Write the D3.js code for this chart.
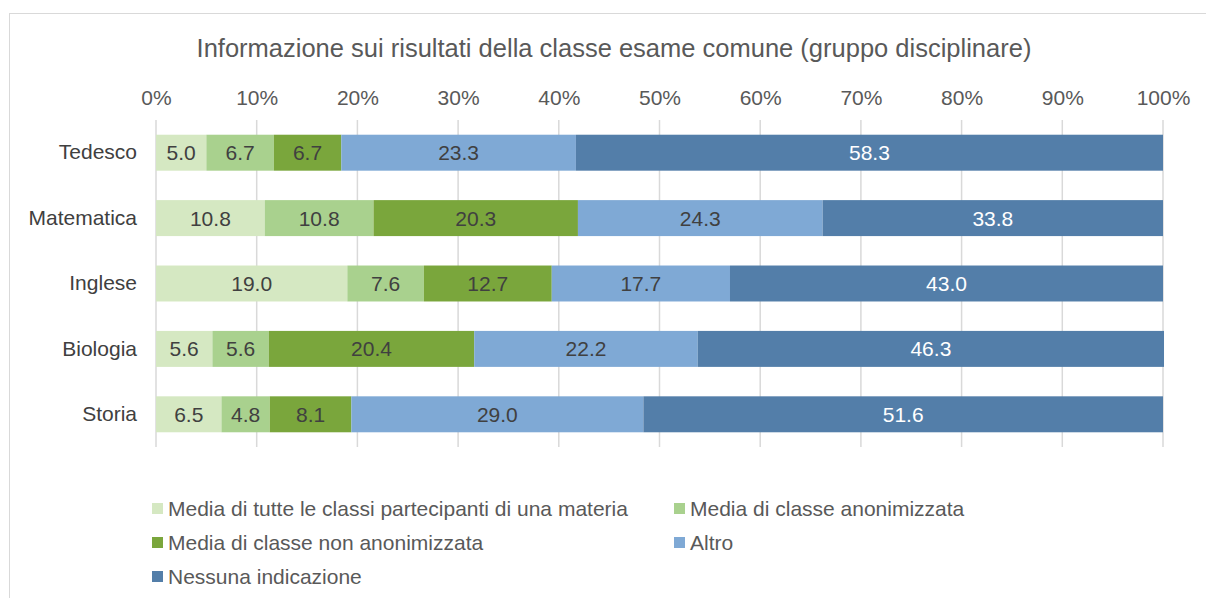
<!DOCTYPE html>
<html>
<head>
<meta charset="utf-8">
<script src="https://cdn.jsdelivr.net/npm/d3@7"></script>
<style>
  body { margin: 0; background: #fff; }
  text { font-family: "Liberation Sans", Arial, sans-serif; }
</style>
</head>
<body>
<div id="chart-area"></div>
<script>
// Data
const categories = ['Tedesco', 'Matematica', 'Inglese', 'Biologia', 'Storia'];
const seriesNames = [
  'Media di tutte le classi partecipanti di una materia',
  'Media di classe anonimizzata',
  'Media di classe non anonimizzata',
  'Altro',
  'Nessuna indicazione'
];
const mediaTutte = [5.0, 10.8, 19.0, 5.6, 6.5];
const mediaAnon = [6.7, 10.8, 7.6, 5.6, 4.8];
const mediaNonAnon = [6.7, 20.3, 12.7, 20.4, 8.1];
const altro = [23.3, 24.3, 17.7, 22.2, 29.0];
const nessuna = [58.3, 33.8, 43.0, 46.3, 51.6];
const tickValues = [0, 10, 20, 30, 40, 50, 60, 70, 80, 90, 100];

const colors = ['#d5e8c2', '#a9d18e', '#7aa63c', '#7fa9d5', '#537ea9'];
const labelColors = ['#404040', '#404040', '#404040', '#404040', '#ffffff'];

const seriesValues = [mediaTutte, mediaAnon, mediaNonAnon, altro, nessuna];
const table = categories.map((c, i) => {
  const row = { category: c };
  seriesNames.forEach((s, j) => { row[s] = seriesValues[j][i]; });
  return row;
});

const W = 1206, H = 598;
const margin = { left: 156, right: 43, top: 120, bottom: 151 };
const width = W - margin.left - margin.right;
const height = H - margin.top - margin.bottom;
const fs = '21px';

const svg = d3.select('#chart-area').append('svg')
  .attr('width', W)
  .attr('height', H);

// chart border
svg.append('rect')
  .attr('x', 9.5).attr('y', 13.5)
  .attr('width', W).attr('height', H)
  .attr('fill', 'none')
  .attr('stroke', '#d9d9d9');

// title
svg.append('text')
  .attr('x', 614)
  .attr('y', 57)
  .attr('text-anchor', 'middle')
  .attr('font-size', '25.5px')
  .attr('fill', '#595959')
  .text('Informazione sui risultati della classe esame comune (gruppo disciplinare)');

const chart = svg.append('g')
  .attr('transform', `translate(${margin.left},${margin.top})`);

const x = d3.scaleLinear().domain([0, 100]).range([0, width]);
const y = d3.scaleBand().domain(categories).range([0, height]).paddingInner(0.45).paddingOuter(0.225);

// gridlines
chart.append('g')
  .selectAll('line')
  .data(tickValues)
  .enter().append('line')
  .attr('x1', d => x(d)).attr('x2', d => x(d))
  .attr('y1', 0).attr('y2', height)
  .attr('stroke', '#d9d9d9')
  .attr('stroke-width', 1.5);

// top axis labels
const xAxis = d3.axisTop(x).tickValues(tickValues).tickFormat(d => d + '%').tickSize(0).tickPadding(15);
const xg = chart.append('g').call(xAxis);
xg.select('.domain').remove();
xg.selectAll('text')
  .attr('font-size', fs)
  .attr('fill', '#595959')
  .style('font-family', '"Liberation Sans", Arial, sans-serif');

// left axis labels
const yAxis = d3.axisLeft(y).tickSize(0).tickPadding(19);
const yg = chart.append('g').call(yAxis);
yg.select('.domain').remove();
yg.selectAll('text')
  .attr('font-size', fs)
  .attr('fill', '#404040')
  .style('font-family', '"Liberation Sans", Arial, sans-serif');

// stacked bars
const stack = d3.stack().keys(seriesNames);
const layers = stack(table);

const groups = chart.selectAll('g.layer')
  .data(layers)
  .enter().append('g')
  .attr('class', 'layer')
  .attr('fill', (d, i) => colors[i]);

groups.selectAll('rect')
  .data(d => d)
  .enter().append('rect')
  .attr('x', d => x(d[0]))
  .attr('y', d => y(d.data.category))
  .attr('width', d => x(d[1]) - x(d[0]))
  .attr('height', y.bandwidth());

groups.each(function (layer, i) {
  d3.select(this).selectAll('text')
    .data(layer)
    .enter().append('text')
    .attr('x', d => (x(d[0]) + x(d[1])) / 2)
    .attr('y', d => y(d.data.category) + y.bandwidth() / 2)
    .attr('dy', '0.36em')
    .attr('text-anchor', 'middle')
    .attr('font-size', fs)
    .attr('fill', labelColors[i])
    .text(d => (d[1] - d[0]).toFixed(1));
});

// legend
const legendPos = [
  { x: 152, y: 508.5 },
  { x: 674, y: 508.5 },
  { x: 152, y: 542.5 },
  { x: 674, y: 542.5 },
  { x: 152, y: 576.5 }
];

const legend = svg.append('g');
seriesNames.forEach((s, i) => {
  const g = legend.append('g')
    .attr('transform', `translate(${legendPos[i].x},${legendPos[i].y})`);
  g.append('rect')
    .attr('x', 0).attr('y', -5.5)
    .attr('width', 11).attr('height', 11)
    .attr('fill', colors[i]);
  g.append('text')
    .attr('x', 16)
    .attr('y', 0)
    .attr('dy', '0.36em')
    .attr('font-size', fs)
    .attr('fill', '#595959')
    .text(s);
});
</script>
</body>
</html>
